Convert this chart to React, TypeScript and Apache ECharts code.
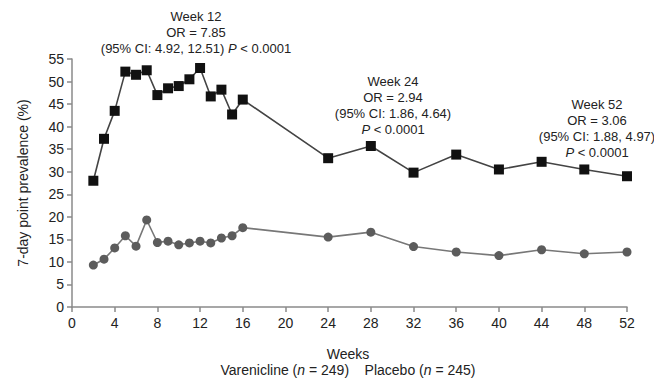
import React, { useEffect, useRef } from "react";
import * as echarts from "echarts";

const weeks = [2, 3, 4, 5, 6, 7, 8, 9, 10, 11, 12, 13, 14, 15, 16, 24, 28, 32, 36, 40, 44, 48, 52];
const vareniclineValues = [28, 37.3, 43.5, 52.2, 51.5, 52.5, 47, 48.5, 49, 50.5, 53, 46.7, 48.2, 42.7, 46, 33, 35.7, 29.8, 33.8, 30.5, 32.2, 30.5, 29];
const placeboValues = [9.3, 10.6, 13.1, 15.8, 13.5, 19.3, 14.3, 14.6, 13.8, 14.2, 14.6, 14.2, 15.3, 15.8, 17.6, 15.5, 16.6, 13.4, 12.2, 11.4, 12.7, 11.8, 12.2];
const xTicks = { min: 0, max: 52, interval: 4 };
const yTicks = { min: 0, max: 55, interval: 5 };

const FONT = "'Liberation Sans', Arial, sans-serif";
const TXT = "#222";

function annot(cx: number, top: number, lines: string[], size = 13) {
  return lines.map((l, i) => ({
    type: "text",
    x: cx,
    y: top + i * 16,
    style: {
      text: l,
      textAlign: "center",
      textVerticalAlign: "middle",
      font: `${size}px ${FONT}`,
      fill: TXT,
      rich: {
        i: { fontStyle: "italic", fontSize: size, fontFamily: FONT, fill: TXT },
      },
    },
  }));
}

export default function App() {
  const ref = useRef<HTMLDivElement>(null);
  useEffect(() => {
    const chart = echarts.init(ref.current!, undefined, { renderer: "svg" });
    const axisStyle = { lineStyle: { color: "#8a8a8a", width: 1.5 } };
    chart.setOption({
      animation: false,
      backgroundColor: "#fff",
      textStyle: { fontFamily: FONT },
      grid: { left: 72, right: 27, top: 59, bottom: 73 },
      xAxis: {
        type: "value",
        ...xTicks,
        axisLine: { show: true, ...axisStyle },
        axisTick: { show: true, length: 5, ...axisStyle },
        splitLine: { show: false },
        axisLabel: { color: TXT, fontSize: 14, margin: 9, fontFamily: FONT },
      },
      yAxis: {
        type: "value",
        ...yTicks,
        axisLine: { show: true, ...axisStyle },
        axisTick: { show: true, length: 5, ...axisStyle },
        splitLine: { show: false },
        axisLabel: { color: TXT, fontSize: 14, margin: 8, fontFamily: FONT },
        name: "7-day point prevalence (%)",
        nameLocation: "middle",
        nameGap: 42,
        nameRotate: 90,
        nameTextStyle: { color: TXT, fontSize: 14, fontFamily: FONT },
      },
      series: [
        {
          name: "Varenicline",
          type: "line",
          data: weeks.map((w, i) => [w, vareniclineValues[i]]),
          symbol: "rect",
          symbolSize: 10,
          lineStyle: { color: "#444", width: 1.6 },
          itemStyle: { color: "#111" },
        },
        {
          name: "Placebo",
          type: "line",
          data: weeks.map((w, i) => [w, placeboValues[i]]),
          symbol: "circle",
          symbolSize: 9,
          lineStyle: { color: "#777", width: 1.6 },
          itemStyle: { color: "#5c5c5c" },
        },
      ],
      graphic: [
        ...annot(196, 16, ["Week 12", "OR = 7.85", "(95% CI: 4.92, 12.51) {i|P} < 0.0001"]),
        ...annot(393, 81, ["Week 24", "OR = 2.94", "(95% CI: 1.86, 4.64)", "{i|P} < 0.0001"]),
        ...annot(597, 104, ["Week 52", "OR = 3.06", "(95% CI: 1.88, 4.97)", "{i|P} < 0.0001"]),
        ...annot(348, 354, ["Weeks", "Varenicline ({i|n} = 249)    Placebo ({i|n} = 245)"], 14),
      ],
    });
    return () => chart.dispose();
  }, []);
  return <div ref={ref} style={{ width: 654, height: 380, position: "absolute", left: 0, top: 0 }} />;
}
